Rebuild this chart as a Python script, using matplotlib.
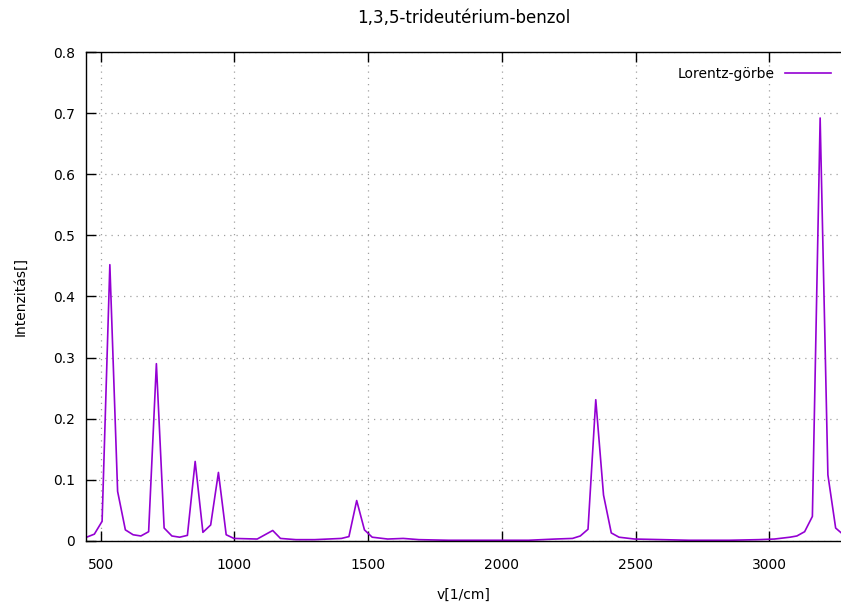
import numpy as np
import matplotlib
matplotlib.use('Agg')
import matplotlib.pyplot as plt

# spectrum (wavenumber, intensity)
wavenumber = [447, 476, 505, 534, 563, 592, 621, 650, 679, 708, 737, 766, 795,
              824, 853, 882, 911, 940, 969, 998, 1085, 1114, 1143, 1172, 1230,
              1300, 1400, 1428, 1457, 1486, 1515, 1573, 1631, 1690, 1800, 1950,
              2100, 2200, 2264, 2293, 2322, 2351, 2380, 2409, 2438, 2496, 2600,
              2700, 2850, 2960, 3019, 3077, 3103, 3132, 3161, 3190, 3219, 3248,
              3277]
intensity = [0.006, 0.011, 0.032, 0.452, 0.081, 0.018, 0.010, 0.008, 0.015,
             0.290, 0.021, 0.008, 0.006, 0.009, 0.130, 0.014, 0.026, 0.112,
             0.010, 0.004, 0.003, 0.010, 0.017, 0.004, 0.002, 0.002, 0.004,
             0.007, 0.066, 0.018, 0.006, 0.003, 0.004, 0.002, 0.001, 0.001,
             0.001, 0.003, 0.004, 0.008, 0.019, 0.231, 0.075, 0.013, 0.006,
             0.003, 0.002, 0.001, 0.001, 0.002, 0.003, 0.006, 0.008, 0.015,
             0.040, 0.692, 0.108, 0.021, 0.010]

xticks = [500, 1000, 1500, 2000, 2500, 3000]
yticks = [0, 0.1, 0.2, 0.3, 0.4, 0.5, 0.6, 0.7, 0.8]
ytick_labels = ['0', '0.1', '0.2', '0.3', '0.4', '0.5', '0.6', '0.7', '0.8']

plt.rcParams['font.family'] = ['DejaVu Sans']
plt.rcParams['font.size'] = 10

fig = plt.figure(figsize=(8.41, 6.05), dpi=100)
ax = fig.add_axes([0.102, 0.106, 0.898, 0.808])

ax.plot(wavenumber, intensity, color='#9400d3', lw=1.2, label='Lorentz-görbe')

ax.set_xlim(444, 3268)
ax.set_ylim(0, 0.8)
ax.set_xticks(xticks)
ax.set_yticks(yticks)
ax.set_yticklabels(ytick_labels)

ax.grid(True, color='#a0a0a0', linestyle=(0, (1, 4)), lw=0.9)
ax.tick_params(direction='in', length=7, width=1, top=True, right=False)
ax.tick_params(axis='x', pad=12)
ax.tick_params(axis='y', pad=8)
ax.spines['right'].set_visible(False)
for s in ['left', 'bottom', 'top']:
    ax.spines[s].set_linewidth(1.0)

ax.set_title('1,3,5-trideutérium-benzol', pad=21)
ax.set_xlabel('v[1/cm]', labelpad=12)
ax.set_ylabel('Intenzitás[]', labelpad=18)

ax.legend(loc='upper right', frameon=False, markerfirst=False,
          handlelength=3.3, bbox_to_anchor=(1.0, 0.99), borderaxespad=0.3)

fig.savefig('out.png', dpi=100)
